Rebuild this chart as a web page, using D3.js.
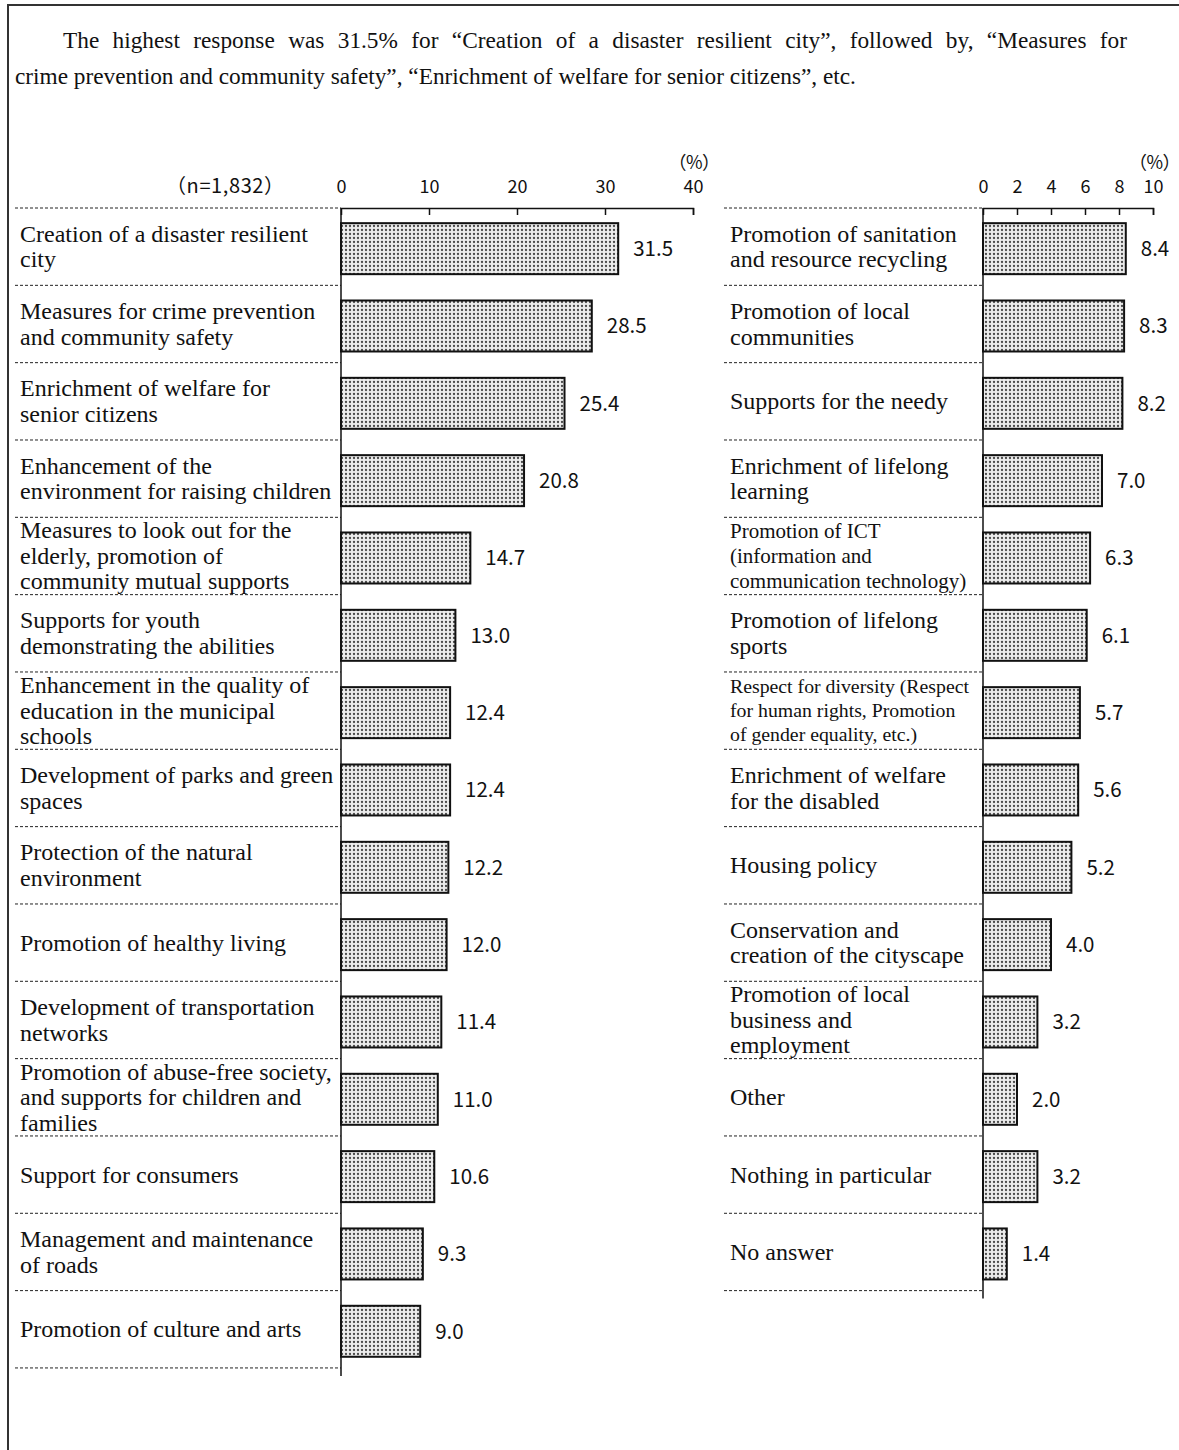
<!DOCTYPE html>
<html>
<head>
<meta charset="utf-8">
<script src="https://cdn.jsdelivr.net/npm/d3@7"></script>
<style>
    body { margin: 0; background: #fff; }
    svg { display: block; }
</style>
</head>
<body>
<div id="chart"></div>
<script>
"use strict";

const introLines = [
    "The highest response was 31.5% for \u201cCreation of a disaster resilient city\u201d, followed by, \u201cMeasures for",
    "crime prevention and community safety\u201d, \u201cEnrichment of welfare for senior citizens\u201d, etc."
];

const sampleLabel = "\uff08n=1,832\uff09";
const unitLabel = "\uff08%\uff09";

const leftCategories = [
    "Creation of a disaster resilient\ncity",
    "Measures for crime prevention\nand community safety",
    "Enrichment of welfare for\nsenior citizens",
    "Enhancement of the\nenvironment for raising children",
    "Measures to look out for the\nelderly, promotion of\ncommunity mutual supports",
    "Supports for youth\ndemonstrating the abilities",
    "Enhancement in the quality of\neducation in the municipal\nschools",
    "Development of parks and green\nspaces",
    "Protection of the natural\nenvironment",
    "Promotion of healthy living",
    "Development of transportation\nnetworks",
    "Promotion of abuse-free society,\nand supports for children and\nfamilies",
    "Support for consumers",
    "Management and maintenance\nof roads",
    "Promotion of culture and arts"
];
const leftValues = [31.5, 28.5, 25.4, 20.8, 14.7, 13.0, 12.4, 12.4, 12.2, 12.0, 11.4, 11.0, 10.6, 9.3, 9.0];
const leftTicks = [0, 10, 20, 30, 40];

const rightCategories = [
    "Promotion of sanitation\nand resource recycling",
    "Promotion of local\ncommunities",
    "Supports for the needy",
    "Enrichment of lifelong\nlearning",
    "Promotion of ICT\n(information and\ncommunication technology)",
    "Promotion of lifelong\nsports",
    "Respect for diversity (Respect\nfor human rights, Promotion\nof gender equality, etc.)",
    "Enrichment of welfare\nfor the disabled",
    "Housing policy",
    "Conservation and\ncreation of the cityscape",
    "Promotion of local\nbusiness and\nemployment",
    "Other",
    "Nothing in particular",
    "No answer"
];
const rightValues = [8.4, 8.3, 8.2, 7.0, 6.3, 6.1, 5.7, 5.6, 5.2, 4.0, 3.2, 2.0, 3.2, 1.4];
const rightTicks = [0, 2, 4, 6, 8, 10];

const WIDTH = 1179;
const HEIGHT = 1450;
const ROW_TOP = 208;
const ROW_STEP = 77.33;
const BAR_H = 51;
const SERIF = "'Liberation Serif', 'Times New Roman', serif";
const SANS = "'Noto Sans CJK JP', 'Liberation Sans', sans-serif";

// a few labels are set smaller in the original
const labelStyle = {
    right: {
        4: {size: 21, lead: 25},
        6: {size: 19.8, lead: 24}
    }
};

let svg = d3.select("#chart")
    .append("svg")
    .attr("width", WIDTH)
    .attr("height", HEIGHT);

let defs = svg.append("defs");
let pat = defs.append("pattern")
    .attr("id", "dots")
    .attr("patternUnits", "userSpaceOnUse")
    .attr("width", 4)
    .attr("height", 4);
pat.append("rect")
    .attr("width", 4)
    .attr("height", 4)
    .attr("fill", "#ececec");
pat.append("circle")
    .attr("cx", 2)
    .attr("cy", 2)
    .attr("r", 1.15)
    .attr("fill", "#4a4a4a");

// frame
svg.append("path")
    .attr("d", "M8," + HEIGHT + "V5H" + WIDTH)
    .attr("fill", "none")
    .attr("stroke", "#333")
    .attr("stroke-width", 2);

let intro = svg.selectAll(".intro")
    .data(introLines)
    .enter()
    .append("text")
    .attr("class", "intro")
    .attr("x", (d, i) => i === 0 ? 63 : 15)
    .attr("y", (d, i) => 48 + i * 36)
    .style("font-family", SERIF)
    .style("font-size", "23.3px")
    .attr("fill", "#111")
    .text(d => d);

// first line is justified to the right margin
intro.filter((d, i) => i === 0)
    .each(function(d) {
        let w = this.getComputedTextLength();
        let gaps = d.split(" ").length - 1;
        let extra = (1127 - 63 - w) / gaps;
        if (extra > 0) d3.select(this).style("word-spacing", extra + "px");
    });

function panel(opts) {
    let g = svg.append("g");
    let n = opts.categories.length;
    let x = d3.scaleLinear()
        .domain([0, opts.ticks[opts.ticks.length - 1]])
        .range([opts.x0, opts.x1]);
    let y = d3.scaleBand()
        .domain(d3.range(n))
        .range([ROW_TOP, ROW_TOP + n * ROW_STEP]);

    // dashed row separators
    g.selectAll(".sep")
        .data(d3.range(n + 1))
        .enter()
        .append("line")
        .attr("x1", opts.labelLeft)
        .attr("x2", opts.x0)
        .attr("y1", d => ROW_TOP + d * ROW_STEP)
        .attr("y2", d => ROW_TOP + d * ROW_STEP)
        .attr("stroke", "#222")
        .attr("stroke-width", 1)
        .attr("stroke-dasharray", "3,2");

    // top axis, ticks pointing into the plot
    let axis = g.append("g")
        .attr("transform", "translate(0," + ROW_TOP + ")")
        .call(d3.axisTop(x).tickValues(opts.ticks).tickSizeInner(-7).tickSizeOuter(-7));
    axis.select(".domain").attr("stroke", "#111").attr("stroke-width", 1.5);
    axis.selectAll(".tick line").attr("stroke", "#111").attr("stroke-width", 1.5);
    axis.selectAll(".tick text")
        .attr("y", -15)
        .attr("dy", null)
        .style("font-family", SANS)
        .style("font-size", "18px")
        .attr("fill", "#111");
    axis.selectAll(".tick")
        .filter(d => d === 0)
        .select("line")
        .remove();

    g.append("text")
        .attr("x", opts.unitX)
        .attr("y", ROW_TOP - 39)
        .attr("text-anchor", opts.unitAnchor)
        .attr("letter-spacing", -0.5)
        .style("font-family", SANS)
        .style("font-size", "18px")
        .attr("fill", "#111")
        .text(unitLabel);

    // vertical baseline
    g.append("line")
        .attr("x1", x(0))
        .attr("x2", x(0))
        .attr("y1", ROW_TOP)
        .attr("y2", ROW_TOP + n * ROW_STEP + 8)
        .attr("stroke", "#111")
        .attr("stroke-width", 1.5);

    g.selectAll(".bar")
        .data(opts.values)
        .enter()
        .append("rect")
        .attr("class", "bar")
        .attr("x", x(0))
        .attr("y", (d, i) => y(i) + (ROW_STEP - BAR_H) / 2 + 2)
        .attr("width", d => x(d) - x(0))
        .attr("height", BAR_H)
        .attr("fill", "url(#dots)")
        .attr("stroke", "#111")
        .attr("stroke-width", 2);

    g.selectAll(".val")
        .data(opts.values)
        .enter()
        .append("text")
        .attr("class", "val")
        .attr("x", d => x(d) + 15)
        .attr("y", (d, i) => y(i) + ROW_STEP / 2 + 2)
        .attr("dy", "0.36em")
        .style("font-family", SANS)
        .style("font-size", "20.5px")
        .attr("fill", "#111")
        .text(d => d.toFixed(1));

    g.selectAll(".lab")
        .data(opts.categories)
        .enter()
        .append("text")
        .attr("class", "lab")
        .style("font-family", SERIF)
        .attr("fill", "#111")
        .each(function(d, i) {
            let st = opts.style[i] || {size: 24, lead: 25.5};
            let lines = d.split("\n");
            let mid = y(i) + ROW_STEP / 2;
            let first = mid - (lines.length - 1) * st.lead / 2;
            d3.select(this)
                .style("font-size", st.size + "px")
                .selectAll("tspan")
                .data(lines)
                .enter()
                .append("tspan")
                .attr("x", opts.labelX)
                .attr("y", (l, j) => first + j * st.lead)
                .attr("dy", "0.33em")
                .text(l => l);
        });
}

svg.append("text")
    .attr("x", 166)
    .attr("y", ROW_TOP - 15)
    .attr("letter-spacing", 0.6)
    .style("font-family", SANS)
    .style("font-size", "20px")
    .attr("fill", "#111")
    .text(sampleLabel);

panel({
    categories: leftCategories,
    values: leftValues,
    ticks: leftTicks,
    x0: 341,
    x1: 693,
    labelLeft: 15,
    labelX: 20,
    unitX: 694,
    unitAnchor: "middle",
    style: {}
});

panel({
    categories: rightCategories,
    values: rightValues,
    ticks: rightTicks,
    x0: 983,
    x1: 1153,
    labelLeft: 724,
    labelX: 730,
    unitX: 1180,
    unitAnchor: "end",
    style: labelStyle.right
});
</script>
</body>
</html>
